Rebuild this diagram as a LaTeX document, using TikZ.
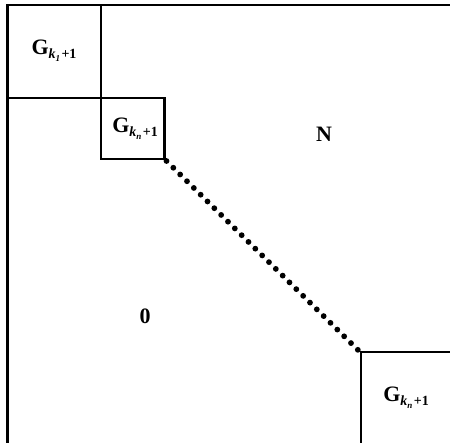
\documentclass[tikz,border=0pt]{standalone}
\usepackage{fontspec}
\setmainfont{Liberation Serif}
\newcommand{\Gblk}[1]{\textbf{G}\raisebox{-0.4ex}{\fontsize{14}{14}\selectfont\textbf{\textit{k}}\raisebox{-0.45ex}{\fontsize{9}{9}\selectfont\textbf{\textit{#1}}}\kern0.1em\textbf{+1}}}
\begin{document}
\begin{tikzpicture}[x=1pt,y=-1pt,
  frame/.style={line width=2.1pt},
  lbl/.style={font=\fontsize{22}{22}\selectfont\bfseries, inner sep=0pt},
  dotline/.style={line width=5.8pt, line cap=round, dash pattern=on 0pt off 9.6pt}]
\useasboundingbox (0,0) rectangle (450,443);
% outer frame
\coordinate (TL) at (7.5,5);
\coordinate (TR) at (450,5);
\coordinate (BL) at (7.5,443);
\draw[frame] (BL) -- (TL) -- (TR);
% first block
\coordinate (A) at (101,5);
\coordinate (B) at (7.5,98);
\draw[frame] (A) -- (101,159) -- (164.5,159) -- (164.5,98) -- (B);
\coordinate (D1) at (166.5,161);
% last block
\coordinate (C) at (361,352);
\draw[frame] (450,352) -- (C) -- (361,443);
\coordinate (D2) at (358,350);
\draw[dotline] (D1) -- (D2);
% labels
\node[lbl] (g1) at (54,51) {\Gblk{1}};
\node[lbl] (g2) at (135,129) {\Gblk{n}};
\node[lbl] (n) at (324,134) {N};
\node[lbl] (z) at (145,316) {0};
\node[lbl] (g3) at (406,398) {\Gblk{n}};
\end{tikzpicture}
\end{document}
